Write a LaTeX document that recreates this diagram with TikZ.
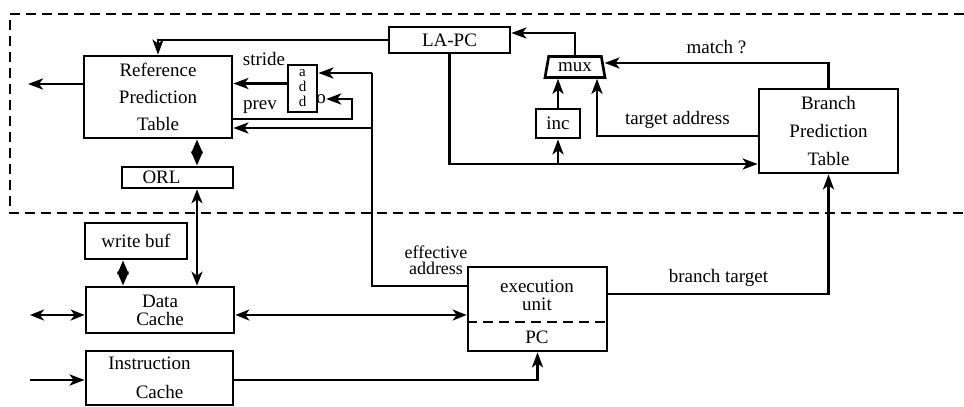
\documentclass[tikz,border=0pt]{standalone}
\usepackage{fontspec}
\setmainfont{Liberation Serif}
\usepackage{tikz}
\usetikzlibrary{shapes.geometric, arrows.meta, positioning, calc}

\begin{document}
\begin{tikzpicture}[x=0.5pt, y=-0.5pt,
    blk/.style={draw, line width=1.35pt, inner sep=0pt, align=center, font=\fontsize{9.5}{13.5}\selectfont},
    lbl/.style={inner sep=0pt, align=center, font=\fontsize{9.5}{11}\selectfont},
    wire/.style={line width=1.35pt},
    arr/.style={wire, -{Stealth[length=7.5pt, width=5.5pt, inset=2pt]}},
    dbl/.style={wire, {Stealth[length=7pt, width=5.5pt, inset=2pt]}-{Stealth[length=7pt, width=5.5pt, inset=2pt]}},
    dia/.style={wire, {Stealth[length=7pt, width=5.5pt, inset=0pt]}-{Stealth[length=7pt, width=5.5pt, inset=0pt]}},
    region/.style={line width=1.3pt, dash pattern=on 5pt off 3pt}]
    \useasboundingbox (0,0) rectangle (964,407);

    \draw[region] (964,14) -- (10,14) -- (10,213) -- (964,213);

    \node[blk, minimum width=74pt, minimum height=41pt] (rpt) at (158,97) {Reference\\Prediction\\Table};
    \node[blk, minimum width=60.5pt, minimum height=13pt] (lapc) at (449.5,40) {LA-PC};
    \node[blk, trapezium, trapezium left angle=68, trapezium right angle=68, trapezium stretches body,
          minimum width=30pt, minimum height=10.5pt] (mux) at (575,67) {mux};
    \node[blk, minimum width=22pt, minimum height=14.5pt] (inc) at (558,123.5) {inc};
    \node[blk, minimum width=69.5pt, minimum height=42pt, font=\fontsize{9.5}{14}\selectfont] (bpt) at (828.5,131) {Branch\\Prediction\\Table};
    \node[blk, minimum width=14.5pt, minimum height=23.5pt, font=\fontsize{7.5}{7.5}\selectfont] (add) at (302.5,88.5) {a\\d\\d};
    \node[lbl] (addo) at (321,99) {o};
    \node[blk, minimum width=55.5pt, minimum height=10.5pt] (orl) at (177.5,177.5) {\mbox{ORL\hspace{16pt}}};
    \node[blk, minimum width=51pt, minimum height=18pt] (wbuf) at (136,241) {write buf};
    \node[blk, minimum width=74pt, minimum height=23pt, font=\fontsize{9.5}{9}\selectfont] (dcache) at (160,310) {Data\\Cache};
    \node[blk, minimum width=73.5pt, minimum height=27pt, font=\fontsize{9.5}{14.5}\selectfont] (icache) at (159.5,378) {\mbox{Instruction\hspace{10pt}}\\Cache};
    \node[blk, minimum width=69.5pt, minimum height=42pt] (exec) at (537.5,309) {};
    \node[lbl, font=\fontsize{9.5}{9}\selectfont] (execlbl) at (537,295) {execution\\unit};
    \node[lbl] (pc) at (537,337) {PC};
    \draw[region] ($(exec.west)+(0,13)$) -- ($(exec.east)+(0,13)$);

    \node[lbl] (stride) at (264,59) {stride};
    \node[lbl] (prev) at (260,107) {prev};
    \node[lbl, font=\fontsize{9}{8}\selectfont] (effaddr) at (436,260) {effective\\address};

    \coordinate (outL) at (28,84);
    \coordinate (ta) at (597,136);
    \coordinate (fork) at (558,164);
    \coordinate (ea) at (372,286);
    \coordinate (eb) at (372,73);
    \coordinate (ec) at (372,128);
    \coordinate (pv) at (352,119);
    \coordinate (mem) at (197,0);
    \coordinate (wb) at (123,0);
    \coordinate (dl) at (30,315);
    \coordinate (il) at (30,380);
    \coordinate (bt) at (607,294);
    \coordinate (sd) at ($(add.west)+(0,-5)$);

    \draw[arr] (rpt.west |- outL) -- (outL);
    \draw[arr] (lapc.west) -| (rpt.north);
    \draw[arr] (mux.north) |- ([yshift=3.5pt]lapc.east);
    \draw[arr] (bpt.north) |- node[lbl, pos=0.75, above=4pt] {match ?} ([yshift=2pt]mux.east);
    \draw[arr] (inc.north) -- (inc.north |- mux.south);
    \draw[arr] (bpt.west |- ta) -- node[lbl, above=3.2pt] {target address} (ta) -- (ta |- mux.south);
    \draw[arr] (lapc.south) |- (fork) -- (fork -| bpt.west);
    \draw[arr] (fork) -- (inc.south);
    \draw[arr] (sd) -- (sd -| rpt.east);
    \draw[wire] (exec.west |- ea) -- (ea) -- (eb);
    \draw[arr] (eb) -- (eb -| add.east);
    \draw[arr] (ec) -- (ec -| rpt.east);
    \draw[arr] (rpt.east |- pv) -- (pv) |- (addo.east);
    \draw[dia] (rpt.south -| mem) -- (orl.north -| mem);
    \draw[dbl] (orl.south -| mem) -- (dcache.north -| mem);
    \draw[dia] (wbuf.south -| wb) -- (dcache.north -| wb);
    \draw[dbl] (dl) -- (dcache.west |- dl);
    \draw[dbl] (dcache.east |- dl) -- (exec.west |- dl);
    \draw[arr] (il) -- (il -| icache.west);
    \draw[arr] (icache.east |- il) -| (exec.south);
    \draw[arr] (exec.east |- bt) -| node[lbl, pos=0.25, above=3.2pt] {branch target} (bpt.south);
\end{tikzpicture}
\end{document}
